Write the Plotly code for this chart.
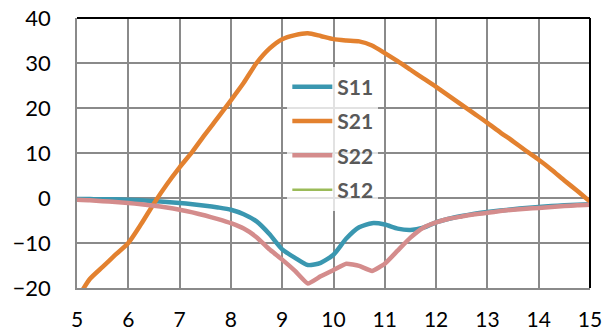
import plotly.graph_objects as go

freq = [5.0, 5.25, 5.5, 5.75, 6.0, 6.25, 6.5, 6.75, 7.0, 7.25, 7.5, 7.75, 8.0, 8.25, 8.5, 8.75,
        9.0, 9.25, 9.5, 9.75, 10.0, 10.25, 10.5, 10.75, 11.0, 11.25, 11.5, 11.75, 12.0, 12.25,
        12.5, 12.75, 13.0, 13.25, 13.5, 13.75, 14.0, 14.25, 14.5, 14.75, 15.0]

s11 = [-0.2, -0.2, -0.3, -0.3, -0.4, -0.5, -0.7, -0.9, -1.1, -1.4, -1.7, -2.1, -2.6, -3.6, -5.2, -8.0,
       -11.4, -13.3, -14.9, -14.4, -12.6, -9.0, -6.5, -5.6, -5.9, -6.8, -7.1, -6.6, -5.4, -4.6,
       -4.0, -3.5, -3.1, -2.8, -2.5, -2.2, -2.0, -1.8, -1.6, -1.5, -1.4]

s21 = [-22.5, -18.0, -15.3, -12.6, -10.0, -5.8, -1.2, 3.0, 6.8, 10.3, 14.2, 17.9, 21.7, 25.6, 30.0, 33.2,
       35.3, 36.2, 36.6, 36.0, 35.3, 35.0, 34.8, 33.9, 32.2, 30.4, 28.5, 26.6, 24.7, 22.7,
       20.7, 18.7, 16.7, 14.6, 12.6, 10.5, 8.5, 6.3, 3.9, 1.6, -0.8]

s22 = [-0.4, -0.5, -0.7, -0.9, -1.1, -1.4, -1.7, -2.1, -2.6, -3.2, -3.9, -4.7, -5.6, -6.8, -8.7, -11.4,
       -13.7, -16.2, -19.0, -17.4, -16.0, -14.6, -15.1, -16.2, -14.6, -11.7, -8.8, -6.6, -5.4, -4.6,
       -4.1, -3.6, -3.3, -2.9, -2.6, -2.4, -2.2, -2.0, -1.8, -1.6, -1.5]

# S12 lies below the visible range (not seen in the plot area)
s12_freq = [5.0, 15.0]
s12 = [-40.0, -40.0]

x_ticks = [5, 6, 7, 8, 9, 10, 11, 12, 13, 14, 15]
y_ticks = [-20, -10, 0, 10, 20, 30, 40]

fig = go.Figure()
fig.add_trace(go.Scatter(x=freq, y=s11, name="S11", mode="lines", legendgroup="a",
                         line=dict(color="#3A97B0", width=4.5, shape="spline", smoothing=0.6)))
fig.add_trace(go.Scatter(x=freq, y=s21, name="S21", mode="lines", legendgroup="b",
                         line=dict(color="#E3812F", width=4.5, shape="spline", smoothing=0.6)))
fig.add_trace(go.Scatter(x=freq, y=s22, name="S22", mode="lines", legendgroup="c",
                         line=dict(color="#D48C8C", width=4.5, shape="spline", smoothing=0.4)))
fig.add_trace(go.Scatter(x=s12_freq, y=s12, name="S12", mode="lines", legendgroup="d",
                         line=dict(color="#9BBB59", width=2.5)))

grid = "#8a8a8a"
fig.update_layout(
    width=605, height=333,
    margin=dict(l=77, r=15, t=18, b=45),
    paper_bgcolor="white", plot_bgcolor="white",
    font=dict(family="Lato", size=22, color="black"),
    showlegend=True,
    legend=dict(x=0.41, y=0.82, xanchor="left", yanchor="top",
                bgcolor="rgba(255,255,255,0.75)",
                font=dict(family="Lato", size=21, color="#595959", weight="bold"),
                traceorder="grouped", tracegroupgap=4, itemwidth=40),
    xaxis=dict(range=[5, 15], tickvals=x_ticks, showgrid=True, gridcolor=grid, gridwidth=1.5,
               showline=True, linecolor=grid, linewidth=1.5, zeroline=False,
               tickfont=dict(size=21),
               ticks="", ticklabelstandoff=12, automargin=False, ticklabeloverflow="allow"),
    yaxis=dict(range=[-20, 40], tickvals=y_ticks, showgrid=True, gridcolor=grid, gridwidth=1.5,
               showline=True, linecolor=grid, linewidth=1.5, zeroline=False,
               ticks="", ticklabelstandoff=20, automargin=False, ticklabeloverflow="allow"),
    shapes=[
        dict(type="line", xref="paper", yref="paper", x0=0, x1=1, y0=1, y1=1,
             line=dict(color="black", width=2)),
        dict(type="line", xref="paper", yref="paper", x0=1, x1=1, y0=0, y1=1,
             line=dict(color="black", width=2)),
    ],
)

# remove the browser's default page margin so the figure fills the window exactly
fig.write_html("out.html", config={"displayModeBar": False},
               post_script="document.body.style.margin='0';document.body.style.overflow='hidden';")
